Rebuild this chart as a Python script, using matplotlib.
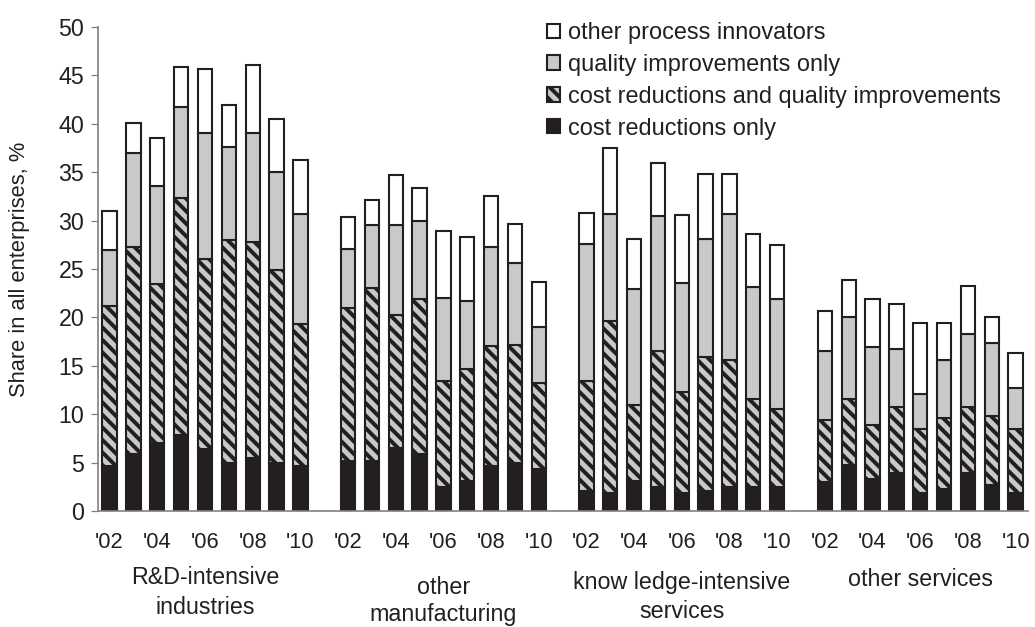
import numpy as np
import matplotlib
matplotlib.use("Agg")
import matplotlib.pyplot as plt
import matplotlib.transforms as mtransforms
from matplotlib.patches import Patch

plt.rcParams['font.family'] = ['Liberation Sans', 'DejaVu Sans']
plt.rcParams['hatch.linewidth'] = 1.9

years = ["'02", "", "'04", "", "'06", "", "'08", "", "'10"]
groups = ["R&D-intensive\nindustries", "other\nmanufacturing",
          "know ledge-intensive\nservices", "other services"]

# cumulative tops, per group (9 years each)
cost_only = [
    [4.6, 5.9, 7.0, 7.9, 6.4, 5.0, 5.5, 5.0, 4.6],
    [5.2, 5.2, 6.5, 5.9, 2.5, 3.1, 4.7, 5.0, 4.3],
    [2.1, 1.9, 3.1, 2.5, 1.9, 2.1, 2.5, 2.5, 2.5],
    [3.0, 4.8, 3.3, 3.9, 1.9, 2.3, 3.9, 2.7, 1.9],
]
cost_quality_top = [
    [21.2, 27.3, 23.5, 32.3, 26.0, 28.0, 27.8, 24.9, 19.3],
    [21.0, 23.0, 20.2, 21.9, 13.4, 14.7, 17.0, 17.2, 13.2],
    [13.4, 19.6, 10.9, 16.5, 12.3, 15.9, 15.6, 11.6, 10.5],
    [9.4, 11.6, 8.9, 10.7, 8.5, 9.6, 10.7, 9.8, 8.5],
]
quality_top = [
    [27.0, 37.0, 33.6, 41.7, 39.0, 37.6, 39.0, 35.0, 30.7],
    [27.1, 29.5, 29.5, 30.0, 22.0, 21.7, 27.3, 25.6, 19.0],
    [27.6, 30.7, 22.9, 30.5, 23.6, 28.1, 30.7, 23.1, 21.9],
    [16.5, 20.0, 16.9, 16.7, 12.1, 15.6, 18.3, 17.4, 12.7],
]
total = [
    [31.0, 40.1, 38.5, 45.9, 45.7, 41.9, 46.1, 40.5, 36.3],
    [30.4, 32.1, 34.7, 33.4, 28.9, 28.3, 32.5, 29.6, 23.7],
    [30.8, 37.5, 28.1, 36.0, 30.6, 34.8, 34.8, 28.6, 27.5],
    [20.7, 23.9, 21.9, 21.4, 19.4, 19.4, 23.2, 20.0, 16.3],
]
group_label_y = [[578, 608], [588, 614], [582, 611], [579]]

dark = '#231f20'
gray = '#c8c9cb'

fig = plt.figure(figsize=(6.9, 4.18), dpi=150)
ax = fig.add_axes([97.7 / 1035, 116 / 627, 929.8 / 1035, 484 / 627])

pos = []
for g in range(len(groups)):
    pos.extend(np.arange(9) + g * 10)
pos = np.array(pos)

c1 = np.concatenate(cost_only)
c2 = np.concatenate(cost_quality_top)
c3 = np.concatenate(quality_top)
c4 = np.concatenate(total)

w = 0.6
hatch = '\\' * 4
ax.bar(pos, c1, w, color=dark, edgecolor=dark, lw=1.0)
ax.bar(pos, c2 - c1, w, bottom=c1, color=gray, edgecolor=dark, lw=1.0, hatch=hatch)
ax.bar(pos, c3 - c2, w, bottom=c2, color=gray, edgecolor=dark, lw=1.0)
ax.bar(pos, c4 - c3, w, bottom=c3, color='white', edgecolor=dark, lw=1.0)

ax.set_xlim(-0.5, 38.5)
ax.set_ylim(0, 50)
ax.set_yticks(np.arange(0, 51, 5))
ax.tick_params(axis='y', labelsize=11.2, length=3.5, color='#808080', width=0.6,
               labelcolor=dark, pad=3)
ax.set_xticks(pos)
ax.set_xticklabels(years * len(groups), fontsize=10.5, color=dark)
ax.tick_params(axis='x', length=0, pad=10)
for s in ['top', 'right']:
    ax.spines[s].set_visible(False)
for s in ['left', 'bottom']:
    ax.spines[s].set_color('#808080')
    ax.spines[s].set_linewidth(0.8)

fig.text(20 / 1035, 1 - 269 / 627, 'Share in all enterprises, %', rotation=90,
         ha='center', va='center', fontsize=10.5, color=dark)

trans = mtransforms.blended_transform_factory(ax.transData, fig.transFigure)
for g, lab in enumerate(groups):
    for line, ypx in zip(lab.split('\n'), group_label_y[g]):
        ax.text(g * 10 + 4, 1 - ypx / 627, line, transform=trans, ha='center', va='center',
                fontsize=11.2, color=dark)

handles = [
    Patch(facecolor='white', edgecolor=dark, lw=1.0),
    Patch(facecolor=gray, edgecolor=dark, lw=1.0),
    Patch(facecolor=gray, edgecolor=dark, lw=1.0, hatch=hatch),
    Patch(facecolor=dark, edgecolor=dark, lw=1.0),
]
labels = ['other process innovators', 'quality improvements only',
          'cost reductions and quality improvements', 'cost reductions only']
fig.legend(handles, labels, loc='upper left', bbox_to_anchor=(547 / 1035, 1 - 22 / 627),
           frameon=False, fontsize=11.3, handlelength=0.55, handleheight=0.55,
           handletextpad=0.35, labelspacing=0.42, borderpad=0, borderaxespad=0,
           labelcolor=dark)

fig.savefig('out.png', dpi=150)
